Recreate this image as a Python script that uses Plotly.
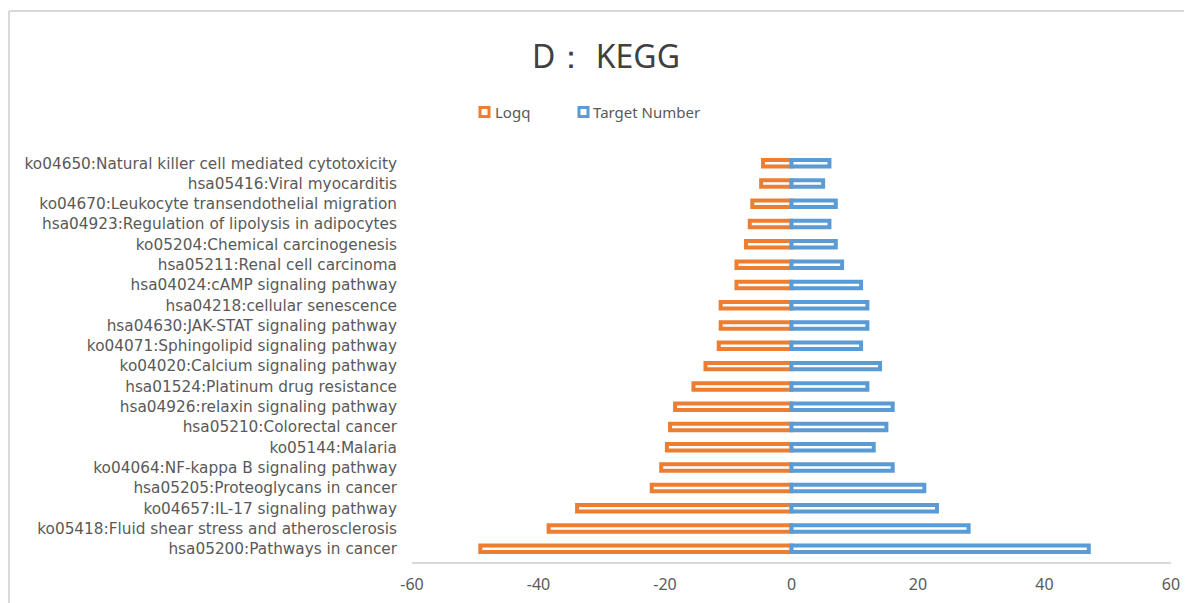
import plotly.graph_objects as go

categories = [
    "ko04650:Natural killer cell mediated cytotoxicity",
    "hsa05416:Viral myocarditis",
    "ko04670:Leukocyte transendothelial migration",
    "hsa04923:Regulation of lipolysis in adipocytes",
    "ko05204:Chemical carcinogenesis",
    "hsa05211:Renal cell carcinoma",
    "hsa04024:cAMP signaling pathway",
    "hsa04218:cellular senescence",
    "hsa04630:JAK-STAT signaling pathway",
    "ko04071:Sphingolipid signaling pathway",
    "ko04020:Calcium signaling pathway",
    "hsa01524:Platinum drug resistance",
    "hsa04926:relaxin signaling pathway",
    "hsa05210:Colorectal cancer",
    "ko05144:Malaria",
    "ko04064:NF-kappa B signaling pathway",
    "hsa05205:Proteoglycans in cancer",
    "ko04657:IL-17 signaling pathway",
    "ko05418:Fluid shear stress and atherosclerosis",
    "hsa05200:Pathways in cancer",
]
logq = [-4.5, -4.8, -6.2, -6.6, -7.2, -8.7, -8.7, -11.2, -11.2, -11.5,
        -13.6, -15.5, -18.4, -19.2, -19.7, -20.6, -22.1, -33.9, -38.4, -49.2]
target_number = [6, 5, 7, 6, 7, 8, 11, 12, 12, 11, 14, 12, 16, 15, 13, 16, 21, 23, 28, 47]
x_ticks = [-60, -40, -20, 0, 20, 40, 60]
x_tick_text = ["-60", "-40", "-20", "0", "20", "40", "60"]
series_names = ["Logq", "Target Number"]

ORANGE = "#ED7D31"
BLUE = "#5B9BD5"
FONT = "Noto Sans, Open Sans, sans-serif"
LABEL_FONT = "DejaVu Sans, sans-serif"

# page body margin offsets the figure by 8px
OFF = 8
W, H = 1192 - OFF, 603 - OFF
L, R, T, B = 412 - OFF, W - (1171 - OFF), 153 - OFF, 603 - 562
pw, ph = W - L - R, H - T - B


def px2x(px):
    return (px - OFF - L) / pw


def py2y(py):
    return (H - B - (py - OFF)) / ph


fig = go.Figure()
fig.add_trace(go.Bar(
    y=categories, x=logq, orientation="h", name=series_names[0],
    marker=dict(color="white", line=dict(color=ORANGE, width=4)),
    width=0.32, showlegend=False,
))
fig.add_trace(go.Bar(
    y=categories, x=target_number, orientation="h", name=series_names[1],
    marker=dict(color="white", line=dict(color=BLUE, width=4)),
    width=0.32, showlegend=False,
))

shapes = [
    dict(type="line", xref="paper", yref="paper", x0=px2x(9), x1=px2x(1210),
         y0=py2y(11), y1=py2y(11), line=dict(color="#D9D9D9", width=2)),
    dict(type="line", xref="paper", yref="paper", x0=px2x(9), x1=px2x(9),
         y0=py2y(11), y1=py2y(620), line=dict(color="#D9D9D9", width=2)),
]
annotations = []
legend_items = [(series_names[0], ORANGE, 480, 493), (series_names[1], BLUE, 579, 591)]
for name, col, sx, tx in legend_items:
    shapes.append(dict(type="rect", xref="paper", yref="paper",
                       x0=px2x(sx), x1=px2x(sx + 9), y0=py2y(107.5), y1=py2y(116.5),
                       fillcolor="white", line=dict(color=col, width=3)))
    annotations.append(dict(text=name, xref="paper", yref="paper", x=px2x(tx), y=py2y(112),
                            xanchor="left", yanchor="middle", showarrow=False,
                            font=dict(size=15, color="#595959", family=FONT)))

fig.update_layout(
    width=W, height=H,
    margin=dict(l=L, r=R, t=T, b=B, autoexpand=False),
    paper_bgcolor="white", plot_bgcolor="white",
    barmode="overlay",
    font=dict(family=FONT, color="#595959", size=14),
    title=dict(text="D： KEGG", x=(606 - OFF) / W, y=1 - (57 - OFF) / H,
               xanchor="center", yanchor="middle", xref="container", yref="container",
               font=dict(size=32, color="#404040", family=FONT)),
    showlegend=False,
    xaxis=dict(range=[-60, 60], tickvals=x_ticks, ticktext=x_tick_text,
               showgrid=False, zeroline=False, automargin=False,
               showline=True, linecolor="#D9D9D9", linewidth=1.5,
               tickfont=dict(size=16, color="#595959"), ticks="", ticklabelstandoff=7),
    yaxis=dict(range=[len(categories) - 0.35, -0.5], showgrid=False, zeroline=False,
               showline=False, automargin=False,
               tickfont=dict(size=15.3, color="#595959", family=LABEL_FONT),
               ticks="", ticklabelstandoff=14),
    shapes=shapes,
    annotations=annotations,
)

fig.write_html("out.html")
